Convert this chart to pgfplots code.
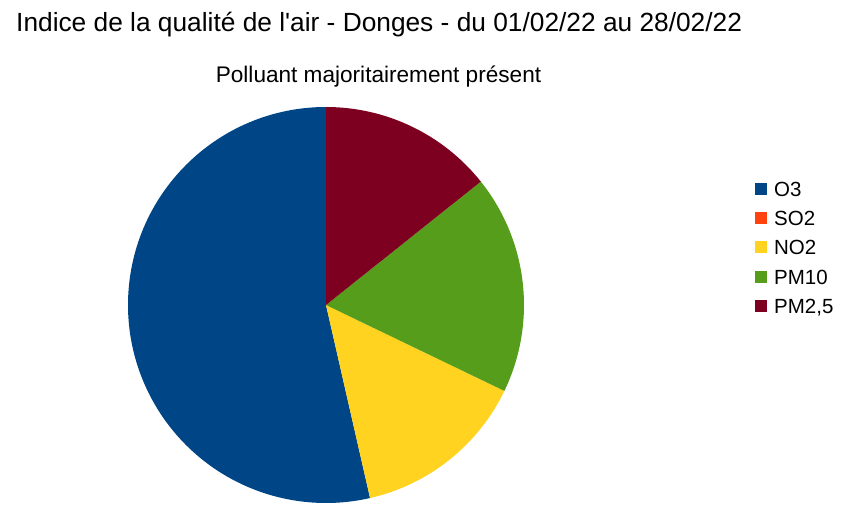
\documentclass[border=0pt]{standalone}
\usepackage{fontspec}
\setmainfont{Liberation Sans}[Ligatures=TeXOff]
\usepackage{pgfplots}
\usepackage{pgfplotstable}
\pgfplotsset{compat=1.18}
\definecolor{cO}{HTML}{004586}
\definecolor{cS}{HTML}{FF420E}
\definecolor{cN}{HTML}{FFD320}
\definecolor{cP}{HTML}{579D1C}
\definecolor{cQ}{HTML}{7E0021}
% days with each majority pollutant (28 days)
\pgfplotstableread{
name count
O3 15
SO2 0
NO2 4
PM10 5
PM25 4
}\data
\begin{document}
\begin{tikzpicture}
\path[use as bounding box] (0,0) rectangle (842bp,521bp);
\node[anchor=base west, inner sep=0pt, font=\fontsize{26.3bp}{30bp}\selectfont] at (16bp,489bp) {Indice de la qualité de l'air - Donges - du 01/02/22 au 28/02/22};
\node[anchor=base, inner sep=0pt, font=\fontsize{22.6bp}{26bp}\selectfont] at (378.5bp,438bp) {Polluant majoritairement présent};
\pgfplotstablegetelem{0}{count}\of\data \let\cntO\pgfplotsretval
\pgfplotstablegetelem{1}{count}\of\data \let\cntS\pgfplotsretval
\pgfplotstablegetelem{2}{count}\of\data \let\cntN\pgfplotsretval
\pgfplotstablegetelem{3}{count}\of\data \let\cntP\pgfplotsretval
\pgfplotstablegetelem{4}{count}\of\data \let\cntQ\pgfplotsretval
\pgfmathsetmacro\tot{\cntO+\cntS+\cntN+\cntP+\cntQ}
\pgfmathsetmacro\aO{90}
\pgfmathsetmacro\dO{\cntO/\tot*360}
\pgfmathsetmacro\aS{\aO+\dO}
\pgfmathsetmacro\dS{\cntS/\tot*360}
\pgfmathsetmacro\aN{\aS+\dS}
\pgfmathsetmacro\dN{\cntN/\tot*360}
\pgfmathsetmacro\aP{\aN+\dN}
\pgfmathsetmacro\dP{\cntP/\tot*360}
\pgfmathsetmacro\aQ{\aP+\dP}
\pgfmathsetmacro\dQ{\cntQ/\tot*360}
\begin{axis}[
  at={(326bp,216bp)}, anchor=center,
  x=198bp, y=198bp, xmin=-1, xmax=1, ymin=-1, ymax=1,
  hide axis, clip=false,
  legend cell align=left,
  legend image code/.code={\path[#1, draw=none] (0bp,-6bp) rectangle (12bp,6bp); \path[draw=none, fill=none] (0bp,0bp) -- (19bp,0bp);},
  legend style={draw=none, fill=none, inner sep=0pt, at={(1.5833,0.8174)}, anchor=north west,
    row sep=11bp, font=\fontsize{20.5bp}{24bp}\selectfont, nodes={inner sep=0pt}},
]
\fill[cO] (axis cs:0,0) -- ++(\aO:198bp) arc[start angle=\aO, delta angle=\dO, radius=198bp] -- cycle;
\fill[cN] (axis cs:0,0) -- ++(\aN:198bp) arc[start angle=\aN, delta angle=\dN, radius=198bp] -- cycle;
\fill[cP] (axis cs:0,0) -- ++(\aP:198bp) arc[start angle=\aP, delta angle=\dP, radius=198bp] -- cycle;
\fill[cQ] (axis cs:0,0) -- ++(\aQ:198bp) arc[start angle=\aQ, delta angle=\dQ, radius=198bp] -- cycle;
\addlegendimage{fill=cO}\addlegendentry{\strut O3}
\addlegendimage{fill=cS}\addlegendentry{\strut SO2}
\addlegendimage{fill=cN}\addlegendentry{\strut NO2}
\addlegendimage{fill=cP}\addlegendentry{\strut PM10}
\addlegendimage{fill=cQ}\addlegendentry{\strut PM2,5}
\end{axis}
\end{tikzpicture}
\end{document}
